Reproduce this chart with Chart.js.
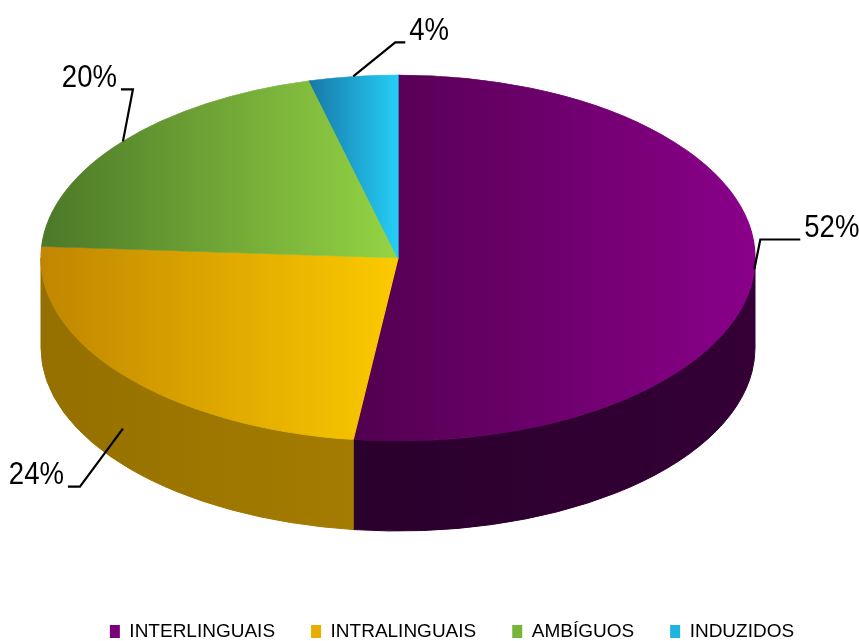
<!DOCTYPE html>
<html>
<head>
<meta charset="utf-8">
<script src="https://cdn.jsdelivr.net/npm/chart.js@4/dist/chart.umd.min.js"></script>
<style>
  html, body { margin: 0; padding: 0; background: #fff; }
  #wrap { width: 859px; height: 641px; }
</style>
</head>
<body>
<div id="wrap"><canvas id="chart" width="859" height="641"></canvas></div>
<script>
// Data
const categories = ['INTERLINGUAIS', 'INTRALINGUAIS', 'AMBÍGUOS', 'INDUZIDOS'];
const values = [52, 24, 20, 4];
const percentLabels = values.map(v => v + '%');

// Colours (top face gradient, side wall gradient, legend)
const baseColors = ['#7a007a', '#e8ad00', '#76b43a', '#1fb4e0'];
const topDark = ['#520050', '#c08600', '#4c7828', '#1878a8'];
const topLight = ['#8a008a', '#fcca00', '#94d444', '#24cef6'];
const sideDark = ['#2a002c', '#957000', '#3e6420', '#106890'];
const sideLight = ['#340036', '#a47c00', '#5a8a2a', '#1890c0'];

// 3D look of the pie on the page
const PIE = { cx: 398, cy: 258, rx: 357, ry: 183, depth: 90 };
// leader line per label: elbow offset from the slice anchor, then horizontal run
const labelLeaders = [[6, -30, 40], [-43, 58, -12], [10, -52, -12], [42, -34, 10]];
const labelFont = '32px "Liberation Sans", Arial, sans-serif';
const labelSqueeze = 0.86;

// gradient for a slice top, in the library's own (untransformed) coordinates
function topFill(c) {
    const i = c.dataIndex;
    const area = c.chart.chartArea;
    if (i === undefined || !area) return baseColors[0];
    const R = Math.min(area.right - area.left, area.bottom - area.top) / 2;
    const x0 = (area.left + area.right) / 2;
    const total = values.reduce((a, b) => a + b, 0);
    let cum = 0;
    for (let j = 0; j < i; j++) cum += values[j];
    const s = -Math.PI / 2 + 2 * Math.PI * cum / total;
    const e = s + 2 * Math.PI * values[i] / total;
    const xs = [0, Math.cos(s), Math.cos(e)];
    for (let k = -1; k <= 2; k++) {
        const t = Math.PI * k;
        if (t > s && t < e) xs.push(Math.cos(t));
    }
    const g = c.chart.ctx.createLinearGradient(x0 + R * Math.min(...xs), 0, x0 + R * Math.max(...xs), 0);
    g.addColorStop(0, topDark[i]);
    g.addColorStop(1, topLight[i]);
    return g;
}

const pie3d = {
    id: 'pie3d',
    beforeDatasetsDraw(chart) {
        const ctx = chart.ctx;
        const arcs = chart.getDatasetMeta(0).data;
        const { cx, cy, rx, ry, depth } = PIE;

        // side walls (front half only)
        arcs.forEach((arc, i) => {
            const s = arc.startAngle, e = arc.endAngle;
            for (let k = -1; k <= 1; k++) {
                const lo = Math.max(s, 2 * Math.PI * k);
                const hi = Math.min(e, Math.PI + 2 * Math.PI * k);
                if (hi <= lo) continue;
                const xa = cx + rx * Math.cos(hi), xb = cx + rx * Math.cos(lo);
                const g = ctx.createLinearGradient(Math.min(xa, xb), 0, Math.max(xa, xb) + 1, 0);
                g.addColorStop(0, sideDark[i]);
                g.addColorStop(1, sideLight[i]);
                ctx.beginPath();
                ctx.ellipse(cx, cy, rx, ry, 0, lo, hi);
                ctx.ellipse(cx, cy + depth, rx, ry, 0, hi, lo, true);
                ctx.closePath();
                ctx.fillStyle = g;
                ctx.fill();
                ctx.strokeStyle = g;
                ctx.lineWidth = 1;
                ctx.stroke();
            }
        });

        // squash the library's circle into the top ellipse
        const a = arcs[0];
        ctx.save();
        ctx.translate(cx, cy);
        ctx.scale(rx / a.outerRadius, ry / a.outerRadius);
        ctx.translate(-a.x, -a.y);
    },
    afterDatasetsDraw(chart) {
        const ctx = chart.ctx;
        ctx.restore();

        const arcs = chart.getDatasetMeta(0).data;
        const { cx, cy, rx, ry, depth } = PIE;
        ctx.save();
        ctx.strokeStyle = '#000';
        ctx.lineWidth = 2.2;
        ctx.fillStyle = '#000';
        ctx.font = labelFont;
        ctx.textBaseline = 'middle';
        arcs.forEach((arc, i) => {
            const mid = (arc.startAngle + arc.endAngle) / 2;
            const ax = cx + rx * Math.cos(mid);
            let ay = cy + ry * Math.sin(mid);
            if (Math.sin(mid) > 0.3) ay += depth * 0.6;
            const [dx, dy, run] = labelLeaders[i];
            const ex = ax + dx, ey = ay + dy;
            ctx.beginPath();
            ctx.moveTo(ax, ay);
            ctx.lineTo(ex, ey);
            ctx.lineTo(ex + run, ey);
            ctx.stroke();
            ctx.save();
            ctx.translate(ex + run + (run > 0 ? 4 : -4), ey - 11);
            ctx.scale(labelSqueeze, 1);
            ctx.textAlign = run > 0 ? 'left' : 'right';
            ctx.fillText(percentLabels[i], 0, 0);
            ctx.restore();
        });
        ctx.restore();
    }
};

new Chart(document.getElementById('chart'), {
    type: 'pie',
    data: {
        labels: categories,
        datasets: [{
            data: values,
            backgroundColor: topFill,
            borderColor: topFill,
            borderWidth: 1
        }]
    },
    options: {
        responsive: false,
        animation: false,
        devicePixelRatio: 1,
        layout: { padding: { left: 45, bottom: -10 } },
        plugins: {
            tooltip: { enabled: false },
            legend: {
                position: 'bottom',
                labels: {
                    boxWidth: 10,
                    boxHeight: 13,
                    padding: 36,
                    color: '#000',
                    font: { family: '"Liberation Sans", Arial, sans-serif', size: 19 },
                    generateLabels: () => categories.map((name, i) => ({
                        text: name,
                        fillStyle: baseColors[i],
                        strokeStyle: baseColors[i],
                        lineWidth: 0,
                        hidden: false,
                        index: i
                    }))
                }
            }
        }
    },
    plugins: [pie3d]
});
</script>
</body>
</html>
